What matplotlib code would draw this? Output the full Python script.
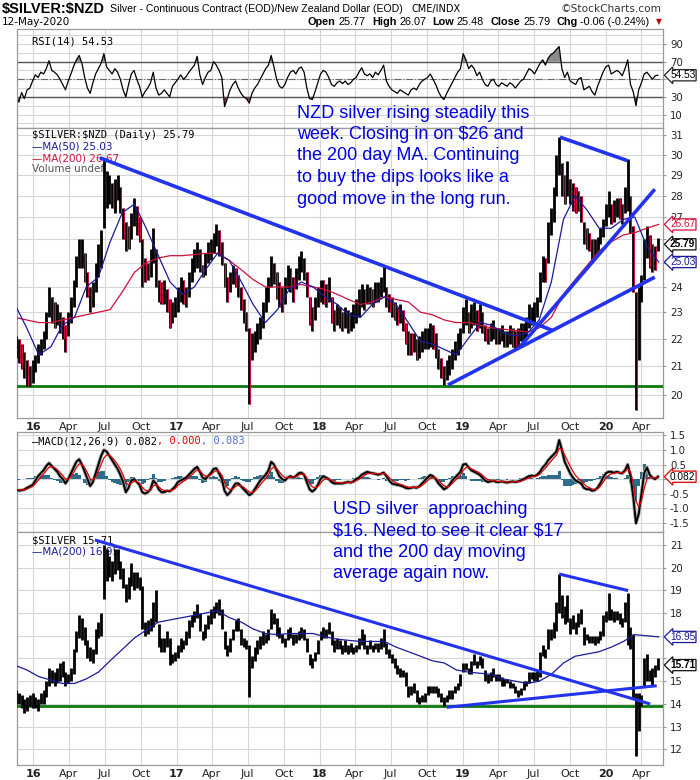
import matplotlib
matplotlib.use("Agg")
import matplotlib.pyplot as plt
import numpy as np
import pandas as pd
from matplotlib.transforms import blended_transform_factory

# ---------------- data (weekly) ----------------
week_start = "2015-11-18"   # weekly bars, Nov-2015 .. May-2020

nzd_high = [
    22.1, 22.0,
    21.8, 21.5, 21.2, 21.0,
    21.2, 21.4, 21.8, 22.0, 22.3,
    23.0, 24.0, 23.6, 23.4,
    23.3, 23.0, 22.8, 22.5,
    23.0, 23.6, 24.3, 25.3, 26.0,
    26.0, 25.4, 24.6, 24.0,
    24.2, 25.0, 25.8, 26.4,
    29.8, 29.2, 29.0, 28.6, 28.8,
    29.0, 28.4, 27.4, 26.8,
    26.6, 27.2, 27.9, 27.5, 27.0,
    26.0, 25.2, 25.0, 25.6,
    26.5, 25.6, 24.3, 24.2,
    24.3, 23.9, 23.5, 23.4, 23.6,
    24.0, 24.4, 24.3, 24.0,
    24.6, 25.2, 25.6, 25.9,
    25.6, 24.9, 25.4, 25.9, 26.0,
    26.3, 26.7, 26.4, 25.9,
    25.0, 24.4, 24.6, 24.9,
    24.8, 24.5, 24.0, 23.5, 23.0,
    22.4, 22.2, 22.3, 22.6,
    22.8, 23.4, 24.0, 24.4,
    25.3, 25.0, 24.6, 24.2, 24.0,
    24.4, 24.9, 24.8, 24.4,
    24.8, 25.3, 25.5, 25.2,
    24.6, 23.6, 23.2, 23.6, 24.0,
    24.3, 24.3, 24.1, 24.4,
    23.6, 23.1, 23.3, 23.2,
    23.0, 23.2, 23.1, 23.0, 23.3,
    23.5, 23.9, 24.1, 23.9,
    24.1, 24.0, 23.9, 24.2,
    24.2, 24.4, 24.9, 24.0, 23.7,
    23.6, 23.4, 23.2, 23.3,
    23.1, 22.6, 22.3, 22.2, 22.2,
    22.0, 22.1, 22.3, 22.4,
    22.4, 22.6, 22.5, 22.2,
    21.6, 21.3, 21.0, 21.2, 21.4,
    21.6, 21.9, 22.2, 22.4,
    23.2, 23.5, 23.0, 23.3,
    23.4, 23.1, 23.3, 23.0,
    22.5, 22.4, 22.6, 22.7, 22.4,
    22.4, 22.5, 22.3, 22.3,
    22.5, 22.4, 22.3, 22.4, 22.6,
    22.6, 22.8, 23.3, 23.2,
    23.4, 23.6, 24.6, 25.3,
    25.2, 26.8, 27.4, 28.4, 30.0,
    30.9, 29.6, 29.0, 29.7,
    28.8, 28.6, 28.4, 28.2,
    28.0, 26.8, 26.5, 26.3, 26.0,
    26.0, 26.1, 26.5, 26.9,
    27.6, 28.2, 27.6, 27.8, 27.9,
    27.9, 27.6, 28.4, 29.8,
    28.0, 26.6, 23.8, 24.0,
    24.5, 26.0, 26.6, 26.2,
    25.8, 25.7, 26.07,
]
nzd_low = [
    21.3, 21.1,
    20.9, 20.6, 20.3, 20.3,
    20.4, 20.8, 21.1, 21.4, 21.6,
    22.0, 22.8, 22.6, 22.4,
    22.5, 22.2, 22.0, 21.5,
    22.1, 22.6, 23.2, 24.0, 24.8,
    24.8, 24.2, 23.6, 23.0,
    23.2, 23.8, 24.4, 24.8,
    26.5, 27.4, 27.6, 27.4, 27.2,
    27.8, 27.2, 26.0, 25.5,
    25.6, 26.0, 26.6, 26.2, 25.9,
    24.0, 24.2, 24.3, 24.4,
    25.0, 24.0, 23.4, 23.3,
    23.3, 23.0, 22.4, 22.6, 22.8,
    23.0, 23.4, 23.3, 23.2,
    23.6, 24.2, 24.6, 24.8,
    24.6, 24.4, 24.5, 25.0, 25.1,
    25.4, 25.7, 25.3, 24.9,
    24.0, 23.4, 23.8, 24.1,
    24.0, 23.6, 23.1, 22.6, 22.3,
    19.7, 21.2, 21.5, 21.8,
    22.0, 22.4, 23.0, 23.4,
    24.0, 24.1, 23.5, 23.2, 23.0,
    23.3, 23.9, 23.8, 23.4,
    23.9, 24.3, 24.6, 24.3,
    23.6, 22.5, 22.3, 22.7, 23.2,
    23.4, 23.3, 23.2, 23.4,
    22.6, 22.3, 22.5, 22.4,
    22.3, 22.4, 22.2, 22.3, 22.4,
    22.6, 22.8, 23.2, 23.1,
    23.3, 23.3, 23.2, 23.4,
    23.4, 23.6, 23.8, 23.2, 23.0,
    22.8, 22.7, 22.5, 22.6,
    22.3, 21.8, 21.4, 21.4, 21.5,
    21.2, 21.3, 21.5, 21.6,
    21.6, 21.7, 21.6, 21.3,
    20.9, 20.6, 20.35, 20.5, 20.7,
    20.9, 21.2, 21.4, 21.6,
    22.2, 22.5, 22.2, 22.4,
    22.5, 22.3, 22.4, 22.2,
    21.9, 21.8, 21.9, 22.0, 21.8,
    21.8, 21.9, 21.7, 21.7,
    21.8, 21.7, 21.6, 21.7, 21.9,
    21.9, 22.0, 22.4, 22.5,
    22.6, 22.8, 23.4, 24.2,
    24.2, 25.0, 26.2, 26.8, 28.0,
    29.0, 28.0, 27.6, 28.0,
    27.6, 27.3, 27.2, 27.3,
    26.8, 25.8, 25.6, 25.5, 25.1,
    25.2, 25.4, 25.8, 26.1,
    26.6, 27.0, 26.7, 26.8, 27.0,
    26.9, 26.7, 27.2, 27.3,
    26.3, 23.8, 19.5, 21.2,
    23.4, 24.3, 25.2, 24.8,
    24.6, 24.7, 25.48,
]
usd_high = [
    14.6, 14.5,
    14.4, 14.2, 14.3, 14.4,
    14.5, 14.3, 14.2, 14.5, 14.6,
    15.0, 15.6, 15.5, 15.4,
    15.6, 15.8, 15.9, 15.4,
    15.3, 15.6, 16.4, 17.2, 17.9,
    17.8, 17.4, 16.8, 16.5,
    16.4, 17.3, 17.6, 18.0,
    21.0, 20.8, 20.5, 20.3, 20.8,
    20.8, 20.3, 20.0, 19.3,
    19.6, 20.2, 19.8, 19.8, 19.6,
    19.2, 17.6, 17.7, 17.8,
    18.5, 19.0, 17.5, 16.9,
    16.9, 17.2, 16.9, 16.2, 16.3,
    16.6, 16.9, 16.8, 17.2,
    17.7, 17.9, 18.1, 18.4,
    18.0, 17.2, 17.5, 17.9, 18.2,
    18.3, 18.5, 18.6, 18.2,
    17.2, 16.6, 16.9, 17.3,
    17.7, 17.8, 17.3, 16.9, 16.8,
    16.6, 16.1, 16.5, 16.8,
    17.0, 17.2, 17.1, 17.3,
    18.2, 18.0, 17.8, 17.4, 17.1,
    16.9, 17.3, 17.4, 17.1,
    17.1, 17.2, 17.4, 17.3,
    16.9, 16.2, 16.0, 16.3, 16.8,
    17.2, 17.4, 17.3, 17.6,
    17.2, 16.8, 16.9, 16.8,
    16.6, 16.8, 16.6, 16.7, 16.5,
    16.6, 16.9, 17.3, 17.1,
    16.6, 16.8, 16.6, 16.7,
    16.7, 16.9, 17.3, 16.7, 16.4,
    16.2, 16.0, 15.7, 15.6,
    15.5, 15.4, 14.8, 14.8, 14.9,
    14.6, 14.3, 14.4, 14.5,
    14.8, 14.8, 14.8, 14.8,
    14.7, 14.5, 14.3, 14.4, 14.6,
    14.6, 14.8, 14.9, 15.3,
    15.8, 15.8, 15.6, 15.9,
    16.2, 15.9, 16.1, 16.0,
    15.5, 15.3, 15.4, 15.6, 15.3,
    15.3, 15.2, 15.1, 15.1,
    15.0, 14.9, 14.8, 14.6, 14.7,
    15.0, 15.0, 15.4, 15.4,
    15.4, 15.5, 16.3, 16.6,
    16.4, 17.3, 17.3, 17.6, 18.5,
    19.7, 18.8, 18.3, 18.8,
    17.8, 17.9, 17.6, 18.0,
    18.2, 17.4, 17.1, 17.0, 17.0,
    17.0, 17.0, 17.2, 17.9,
    18.1, 18.9, 18.2, 18.1, 18.1,
    18.0, 17.8, 18.5, 18.9,
    17.4, 17.1, 14.5, 14.5,
    14.4, 16.0, 16.2, 15.5,
    15.6, 15.7, 16.0,
]
usd_low = [
    14.0, 14.0,
    13.8, 13.6, 13.7, 13.9,
    13.8, 13.8, 13.7, 14.0, 14.0,
    14.3, 14.8, 14.9, 14.8,
    14.9, 15.0, 15.2, 14.8,
    14.9, 15.0, 15.3, 16.3, 16.9,
    16.8, 16.6, 16.0, 15.9,
    15.8, 16.2, 16.9, 17.0,
    18.6, 19.4, 19.6, 19.4, 19.7,
    19.9, 19.5, 19.1, 18.5,
    18.6, 19.2, 19.0, 19.1, 19.0,
    17.3, 17.0, 17.1, 17.2,
    17.4, 17.6, 16.5, 16.3,
    16.3, 16.5, 15.7, 15.8, 15.9,
    16.0, 16.3, 16.4, 16.6,
    16.9, 17.4, 17.6, 17.8,
    17.2, 16.8, 16.9, 17.3, 17.5,
    17.8, 18.0, 17.9, 17.3,
    16.4, 16.1, 16.3, 16.8,
    17.2, 17.2, 16.6, 16.5, 16.4,
    14.3, 15.6, 15.9, 16.2,
    16.4, 16.6, 16.7, 16.8,
    17.3, 17.5, 17.0, 16.9, 16.7,
    16.5, 16.8, 16.9, 16.6,
    16.7, 16.8, 16.9, 16.8,
    16.3, 15.7, 15.6, 15.9, 16.2,
    16.8, 16.9, 16.9, 17.1,
    16.6, 16.3, 16.4, 16.4,
    16.2, 16.3, 16.2, 16.3, 16.2,
    16.3, 16.4, 16.6, 16.4,
    16.2, 16.4, 16.3, 16.4,
    16.3, 16.4, 16.5, 16.2, 16.0,
    15.8, 15.6, 15.3, 15.2,
    15.2, 14.8, 14.3, 14.4, 14.5,
    14.1, 14.0, 14.1, 14.1,
    14.4, 14.5, 14.5, 14.5,
    14.3, 14.1, 13.9, 14.1, 14.2,
    14.2, 14.5, 14.6, 14.8,
    15.4, 15.5, 15.3, 15.3,
    15.7, 15.6, 15.7, 15.6,
    15.0, 14.9, 15.0, 15.2, 15.0,
    15.0, 14.8, 14.8, 14.9,
    14.7, 14.7, 14.5, 14.3, 14.4,
    14.6, 14.8, 14.9, 15.1,
    15.0, 15.0, 15.2, 16.1,
    16.0, 16.4, 16.8, 16.9, 17.2,
    18.0, 17.8, 17.5, 17.6,
    17.1, 17.3, 17.1, 17.4,
    17.5, 16.6, 16.8, 16.7, 16.7,
    16.6, 16.7, 16.8, 17.0,
    17.6, 17.7, 17.7, 17.6, 17.7,
    17.5, 17.4, 17.6, 16.6,
    16.4, 14.2, 11.7, 12.8,
    13.9, 14.8, 15.0, 15.0,
    14.8, 15.2, 15.5,
]
rsi_values = [
    30, 24,
    35, 28, 38, 40,
    48, 55, 52, 58, 56,
    62, 71, 60, 58,
    55, 50, 44, 38,
    48, 56, 65, 72, 77,
    68, 52, 40, 34,
    46, 56, 62, 68,
    79, 64, 60, 56, 62,
    58, 50, 38, 30,
    44, 56, 60, 50, 42,
    30, 36, 40, 46,
    58, 40, 32, 34,
    38, 34, 30, 42, 46,
    50, 55, 50, 53,
    58, 62, 66, 76,
    55, 44, 52, 58, 60,
    70, 66, 60, 52,
    19, 28, 38, 44,
    48, 40, 34, 30, 28,
    23, 34, 40, 44,
    50, 56, 62, 66,
    77, 64, 50, 42, 40,
    44, 52, 58, 60,
    56, 62, 64, 58,
    40, 28, 27, 36, 46,
    56, 60, 58, 52,
    44, 42, 46, 48,
    45, 48, 44, 46, 50,
    52, 58, 63, 56,
    54, 56, 52, 58,
    55, 60, 66, 48, 42,
    38, 36, 34, 38,
    36, 34, 32, 38, 40,
    38, 44, 48, 50,
    52, 56, 50, 44,
    36, 30, 27, 34, 40,
    46, 52, 58, 62,
    79, 72, 62, 66,
    62, 54, 58, 50,
    44, 42, 48, 50, 44,
    42, 46, 44, 42,
    46, 44, 40, 44, 48,
    50, 56, 62, 60,
    56, 62, 68, 72,
    66, 74, 78, 80, 84,
    87, 62, 52, 58,
    48, 46, 44, 50,
    52, 38, 40, 42, 36,
    32, 42, 50, 58,
    64, 66, 56, 58, 60,
    58, 54, 62, 72,
    44, 36, 20, 38,
    46, 56, 58, 54,
    50, 54, 54.53,
]
macd_values = [
    -0.35, -0.40,
    -0.38, -0.36, -0.30, -0.25,
    -0.20, -0.05, 0.10, 0.20, 0.30,
    0.45, 0.55, 0.45, 0.35,
    0.25, 0.10, 0.00, -0.15,
    0.00, 0.20, 0.40, 0.60, 0.68,
    0.50, 0.25, 0.00, -0.24,
    -0.10, 0.20, 0.50, 0.80,
    1.00, 0.95, 0.80, 0.65, 0.50,
    0.35, 0.15, -0.10, -0.45,
    -0.30, -0.05, 0.00, -0.10, -0.20,
    -0.45, -0.50, -0.45, -0.35,
    -0.05, -0.15, -0.35, -0.45,
    -0.45, -0.40, -0.42, -0.35, -0.25,
    -0.10, -0.05, 0.00, 0.05,
    0.15, 0.25, 0.35, 0.42,
    0.25, 0.05, 0.00, 0.10, 0.20,
    0.35, 0.37, 0.20, 0.00,
    -0.40, -0.55, -0.45, -0.30,
    -0.15, -0.15, -0.25, -0.35, -0.45,
    -0.55, -0.50, -0.35, -0.20,
    -0.05, 0.05, 0.15, 0.30,
    0.59, 0.50, 0.30, 0.10, 0.00,
    -0.05, 0.05, 0.10, 0.05,
    0.10, 0.20, 0.22, 0.15,
    -0.10, -0.35, -0.43, -0.35, -0.20,
    0.00, 0.10, 0.05, 0.00,
    -0.10, -0.15, -0.15, -0.15,
    -0.15, -0.12, -0.10, -0.12, -0.08,
    0.00, 0.05, 0.15, 0.20,
    0.25, 0.22, 0.20, 0.18,
    0.15, 0.18, 0.22, 0.10, -0.05,
    -0.15, -0.18, -0.20, -0.22,
    -0.25, -0.30, -0.32, -0.30, -0.28,
    -0.30, -0.25, -0.15, -0.05,
    0.05, 0.14, 0.10, 0.00,
    -0.15, -0.25, -0.35, -0.30, -0.20,
    -0.05, 0.05, 0.15, 0.25,
    0.50, 0.52, 0.40, 0.30,
    0.25, 0.20, 0.15, 0.05,
    -0.05, -0.10, -0.08, -0.05, -0.10,
    -0.10, -0.08, -0.10, -0.12,
    -0.10, -0.08, -0.10, -0.08, -0.05,
    0.00, 0.05, 0.10, 0.12,
    0.10, 0.15, 0.25, 0.40,
    0.50, 0.65, 0.75, 0.85, 0.95,
    1.34, 1.00, 0.60, 0.40,
    0.20, 0.05, -0.05, -0.10,
    -0.15, -0.30, -0.35, -0.35, -0.40,
    -0.38, -0.30, -0.15, 0.05,
    0.20, 0.25, 0.25, 0.22, 0.25,
    0.22, 0.20, 0.30, 0.50,
    0.10, -0.60, -1.52, -1.20,
    -0.50, 0.20, 0.40, 0.15,
    0.05, 0.00, 0.082,
]

# monthly moving-average readings (mid-month, Nov-2015 .. May-2020)
ma_start = "2015-11-01"
nzd_ma50 = [
    23.3, 22.4,
    21.4, 21.7, 22.5, 22.8, 24.0, 24.4, 25.9, 27.2, 27.6, 26.5, 25.3, 24.2,
    23.7, 24.0, 24.7, 25.4, 25.1, 24.2, 23.3, 22.6, 23.1, 23.9, 24.2, 24.0,
    23.6, 23.3, 22.9, 22.8, 23.3, 23.6, 23.3, 22.6, 21.9, 21.8, 21.6, 21.4,
    22.0, 22.6, 22.5, 22.2, 22.1, 22.2, 22.7, 24.2, 26.9, 28.0, 27.3, 26.5,
    26.5, 26.9, 27.0, 25.7, 25.03,
]
nzd_ma200 = [
    22.8, 22.7,
    22.6, 22.6, 22.7, 22.8, 22.9, 23.0, 23.1, 23.8, 24.6, 25.0, 25.2, 25.3,
    25.3, 25.35, 25.4, 25.4, 25.1, 24.7, 24.3, 24.0, 24.0, 24.0, 24.1, 24.0,
    23.9, 23.7, 23.5, 23.3, 23.4, 23.6, 23.5, 23.4, 23.0, 22.9, 22.7, 22.6,
    22.6, 22.5, 22.4, 22.35, 22.3, 22.25, 22.4, 22.8, 23.7, 24.3, 24.9, 25.5,
    25.9, 26.2, 26.3, 26.5, 26.67,
]
usd_ma200 = [
    15.7, 15.5,
    15.2, 15.05, 14.9, 14.9, 15.1, 15.4, 15.9, 16.4, 16.9, 17.25, 17.6, 17.7,
    17.8, 17.9, 18.0, 18.1, 17.8, 17.6, 17.3, 17.1, 17.05, 17.1, 17.1, 17.1,
    16.95, 16.85, 16.8, 16.75, 16.75, 16.75, 16.5, 16.3, 16.1, 15.9, 15.8, 15.5,
    15.4, 15.35, 15.3, 15.1, 15.0, 14.9, 15.0, 15.3, 15.8, 16.1, 16.2, 16.3,
    16.5, 16.75, 17.05, 17.0, 16.95,
]

# hand-drawn trend lines and support lines
nzd_trend_start = ["2016-06-19", "2018-11-24", "2019-05-27", "2019-09-06"]
nzd_trend_start_val = [29.84, 20.34, 21.7, 30.9]
nzd_trend_end = ["2019-08-19", "2020-05-05", "2020-05-05", "2020-02-25"]
nzd_trend_end_val = [22.3, 24.4, 28.3, 29.7]
nzd_support = 20.3
usd_trend_start = ["2016-06-06", "2018-11-21", "2019-09-04"]
usd_trend_start_val = [21.22, 13.85, 19.72]
usd_trend_end = ["2020-04-23", "2020-05-10", "2020-02-27"]
usd_trend_end_val = [14.0, 14.8, 18.99]
usd_support = 13.93

price_ticks = list(range(20, 32))
price_tick_labels = ["20", "21", "22", "23", "24", "", "", "27", "28", "29", "30", "31"]
usd_ticks = list(range(12, 22))
usd_tick_labels = ["12", "13", "14", "15", "", "", "18", "19", "20", "21"]
rsi_ticks = [10, 30, 50, 70, 90]
rsi_tick_labels = ["10", "30", "", "70", "90"]
macd_ticks = [-1.5, -1.0, -0.5, 0.0, 0.5, 1.0, 1.5]
macd_tick_labels = ["-1.5", "-1.0", "-0.5", "", "0.5", "1.0", "1.5"]

# ---------------- layout ----------------
W, H = 700, 780
fig = plt.figure(figsize=(7, 7.8), dpi=100)
fig.patch.set_facecolor("white")
renderer = fig.canvas.get_renderer()

def rect(x0, y0, x1, y1):
    return [x0 / W, 1 - y1 / H, (x1 - x0) / W, (y1 - y0) / H]

X0, X1 = 16.5, 663
ax_rsi = fig.add_axes(rect(X0, 29, X1, 128))
ax_px = fig.add_axes(rect(X0, 128, X1, 418))
ax_macd = fig.add_axes(rect(X0, 432, X1, 532))
ax_usd = fig.add_axes(rect(X0, 532, X1, 765))
axes = [ax_rsi, ax_px, ax_macd, ax_usd]

xmin, xmax = pd.Timestamp("2015-11-19"), pd.Timestamp("2020-05-26")
quarters = pd.date_range("2016-01-01", "2020-04-01", freq="QS")
qlabels = [("%02d" % (d.year % 100)) if d.month == 1 else d.strftime("%b") for d in quarters]

GRID = "#d6d6d6"
FRAME = "#9a9a9a"
for ax in axes:
    ax.set_xlim(xmin, xmax)
    ax.set_xticks(quarters)
    ax.grid(True, color=GRID, lw=0.8)
    ax.set_axisbelow(True)
    ax.yaxis.tick_right()
    ax.tick_params(axis="y", length=2, color=FRAME, labelsize=7.3, labelcolor="#222", pad=3)
    ax.tick_params(axis="x", length=0, labelsize=8, labelcolor="#222", pad=3)
    for s in ax.spines.values():
        s.set_color(FRAME)
        s.set_linewidth(0.9)
    ax.set_xticklabels([])

for ax in (ax_px, ax_usd):
    ax.set_xticklabels(qlabels)
    for lab, d in zip(ax.get_xticklabels(), quarters):
        if d.month == 1:
            lab.set_fontweight("bold")

wk = lambda n: pd.date_range(week_start, periods=n, freq="W-WED")
mo = lambda n: pd.date_range(ma_start, periods=n, freq="MS") + pd.Timedelta(days=14)

def tag(ax, y, text, ec, tc="black", bold=False, dy=0.0):
    ax.text(1.011, y, text, transform=blended_transform_factory(ax.transAxes, ax.transData),
            ha="left", va="center", fontsize=7.3, color=tc, family="Liberation Sans",
            fontweight="bold" if bold else "normal",
            bbox=dict(boxstyle="larrow,pad=0.06", fc="white", ec=ec, lw=0.9),
            clip_on=False, zorder=20)

# ---------------- RSI ----------------
rsi = np.array(rsi_values, float)
rd = wk(len(rsi))
ax_rsi.set_ylim(-5.3, 107)
ax_rsi.set_yticks(rsi_ticks)
ax_rsi.set_yticklabels(rsi_tick_labels)
ax_rsi.set_yticks(range(0, 101, 10), minor=True)
ax_rsi.grid(True, which="minor", axis="y", color=GRID, lw=0.8)
ax_rsi.tick_params(axis="y", which="minor", length=0)
ax_rsi.fill_between(rd, rsi, 70, where=rsi >= 70, interpolate=True, color="#8c8c8c", lw=0)
ax_rsi.fill_between(rd, rsi, 30, where=rsi <= 30, interpolate=True, color="#8a4444", lw=0)
ax_rsi.axhline(70, color="#555", lw=1.0)
ax_rsi.axhline(30, color="#555", lw=1.0)
ax_rsi.axhline(50, color="#666", lw=0.8, ls="-.")
ax_rsi.plot(rd, rsi, color="black", lw=0.9)
ax_rsi.text(0.024, 0.87, "RSI(14) 54.53", transform=ax_rsi.transAxes, fontsize=7.5, va="center",
            family="DejaVu Sans Mono")
tag(ax_rsi, rsi[-1], "54.53", "#222")

# ---------------- NZD price ----------------
nh = np.array(nzd_high, float)
nl = np.array(nzd_low, float)
n = min(len(nh), len(nl))
nh, nl = nh[:n], nl[:n]
nd = wk(n)
ax_px.set_yscale("log")
ax_px.set_ylim(19.24, 31.38)
ax_px.set_yticks(price_ticks)
ax_px.set_yticklabels(price_tick_labels)
ax_px.yaxis.set_minor_locator(matplotlib.ticker.NullLocator())
ax_px.axhline(nzd_support, color="#0a7a0a", lw=2.0, zorder=3)
ax_px.vlines(nd, nl, nh, color="black", lw=2.0, zorder=4)
mid = (nh + nl) / 2
falling = np.r_[False, mid[1:] < mid[:-1]]
ax_px.vlines(nd[falling] + pd.Timedelta(days=2), nl[falling], nh[falling],
             color="#d0103a", lw=0.8, zorder=5)
ax_px.plot(mo(len(nzd_ma200)), nzd_ma200, color="#d0103a", lw=0.9, zorder=6)
ax_px.plot(mo(len(nzd_ma50)), nzd_ma50, color="#1a1a9c", lw=0.9, zorder=6)
for s, sv, e, ev in zip(nzd_trend_start, nzd_trend_start_val, nzd_trend_end, nzd_trend_end_val):
    ax_px.plot([pd.Timestamp(s), pd.Timestamp(e)], [sv, ev], color="#2233ee", lw=2.6,
               solid_capstyle="butt", zorder=8)
lx = 0.024
ax_px.text(lx, 0.975, "\\$SILVER:\\$NZD (Daily) 25.79", transform=ax_px.transAxes, fontsize=7.5,
           va="center", family="DejaVu Sans Mono")
ax_px.text(lx, 0.935, "\u2014MA(50) 25.03", transform=ax_px.transAxes, fontsize=7.5,
           va="center", color="#1a1a9c")
ax_px.text(lx, 0.895, "\u2014MA(200) 26.67", transform=ax_px.transAxes, fontsize=7.5,
           va="center", color="#d0103a")
ax_px.text(lx, 0.857, "Volume undef", transform=ax_px.transAxes, fontsize=7.5,
           va="center", color="#555")
tag(ax_px, nzd_ma200[-1], "26.67", "#d0103a", tc="#d0103a")
tag(ax_px, 25.79, "25.79", "#111", bold=True)
tag(ax_px, nzd_ma50[-1], "25.03", "#1a1a9c", tc="#1a1a9c")

# ---------------- MACD ----------------
macd = pd.Series(macd_values, dtype=float)
signal = macd.ewm(alpha=0.45, adjust=False).mean()
hist = macd - signal
md = wk(len(macd))
ax_macd.set_ylim(-1.82, 1.62)
ax_macd.set_yticks(macd_ticks)
ax_macd.set_yticklabels(macd_tick_labels)
ax_macd.bar(md, hist.values, width=7, color="#2b6d8a", lw=0, zorder=3)
ax_macd.plot(md, macd.values, color="#aaaaaa", lw=2.6, zorder=4)
ax_macd.plot(md, macd.values, color="black", lw=1.4, zorder=5)
ax_macd.plot(md, signal.values, color="#e00000", lw=0.9, zorder=6)
parts = [("\u2014MACD(12,26,9) 0.082", "black"), (", 0.000", "#e00000"), (", 0.083", "#4a6fd4")]
px_x = X0 + 0.024 * (X1 - X0)
for s, c in parts:
    t = fig.text(px_x / W, 1 - 441 / H, s, fontsize=7.5, va="center", color=c,
                 family="DejaVu Sans Mono")
    px_x += t.get_window_extent(renderer=renderer).width
tag(ax_macd, macd_values[-1], "0.082", "#e00000")

# ---------------- USD silver ----------------
uh = np.array(usd_high, float)
ul = np.array(usd_low, float)
m = min(len(uh), len(ul))
uh, ul = uh[:m], ul[:m]
ud = wk(m)
ax_usd.set_ylim(11.31, 21.57)
ax_usd.set_yticks(usd_ticks)
ax_usd.set_yticklabels(usd_tick_labels)
ax_usd.axhline(usd_support, color="#0a7a0a", lw=2.0, zorder=3)
ax_usd.vlines(ud, ul, uh, color="black", lw=2.0, zorder=4)
ax_usd.plot(mo(len(usd_ma200)), usd_ma200, color="#1a1a9c", lw=0.9, zorder=6)
for s, sv, e, ev in zip(usd_trend_start, usd_trend_start_val, usd_trend_end, usd_trend_end_val):
    ax_usd.plot([pd.Timestamp(s), pd.Timestamp(e)], [sv, ev], color="#2233ee", lw=2.2,
                solid_capstyle="butt", zorder=8)
ax_usd.text(lx, 0.965, "\\$SILVER 15.71", transform=ax_usd.transAxes, fontsize=7.5,
            va="center", family="DejaVu Sans Mono")
ax_usd.text(lx, 0.918, "\u2014MA(200) 16.95", transform=ax_usd.transAxes, fontsize=7.5,
            va="center", color="#1a1a9c")
tag(ax_usd, usd_ma200[-1], "16.95", "#1a1a9c", tc="#1a1a9c")
tag(ax_usd, 15.71, "15.71", "#111", bold=True)

# ---------------- header ----------------
def ftext(x, y, s, **kw):
    return fig.text(x / W, 1 - y / H, s, va="center", **kw)

ftext(2, 9, "\\$SILVER:\\$NZD", fontsize=10.5, fontweight="bold", family="Liberation Sans")
ftext(110, 9, "Silver - Continuous Contract (EOD)/New Zealand Dollar (EOD)", fontsize=7.6,
      family="Liberation Sans")
ftext(412, 9, "CME/INDX", fontsize=7, family="DejaVu Sans")
ftext(662, 9, "\u00a9StockCharts.com", fontsize=7.6, family="DejaVu Sans", color="#333", ha="right")
ftext(2, 22, "12-May-2020", fontsize=7.5, family="DejaVu Sans")
hdr = [("Open", True), ("25.77", False), ("High", True), ("26.07", False),
       ("Low", True), ("25.48", False), ("Close", True), ("25.79", False),
       ("Chg", True), ("-0.06 (-0.24%)", False)]
hx = 308
for s, b in hdr:
    t = ftext(hx, 22, s, fontsize=7.8, family="Liberation Sans", fontweight="bold" if b else "normal")
    hx += t.get_window_extent(renderer=renderer).width + (3 if b else 6)
ftext(hx, 22, "\u25bc", fontsize=5.5, color="#c00000", family="DejaVu Sans")

# ---------------- annotations ----------------
nzd_note = ["NZD silver rising steadily this", "week. Closing in on \\$26 and",
            "the 200 day MA. Continuing", "to buy the dips looks like a",
            "good move in the long run."]
for i, line in enumerate(nzd_note):
    ftext(297, 113 + i * 21.5, line, fontsize=13, color="#0000e6", family="Liberation Sans")
usd_note = ["USD silver  approaching", "\\$16. Need to see it clear \\$17",
            "and the 200 day moving", "average again now."]
for i, line in enumerate(usd_note):
    ftext(333, 510 + i * 21.3, line, fontsize=13, color="#0000e6", family="Liberation Sans")

fig.savefig("out.png", dpi=100, facecolor="white")
